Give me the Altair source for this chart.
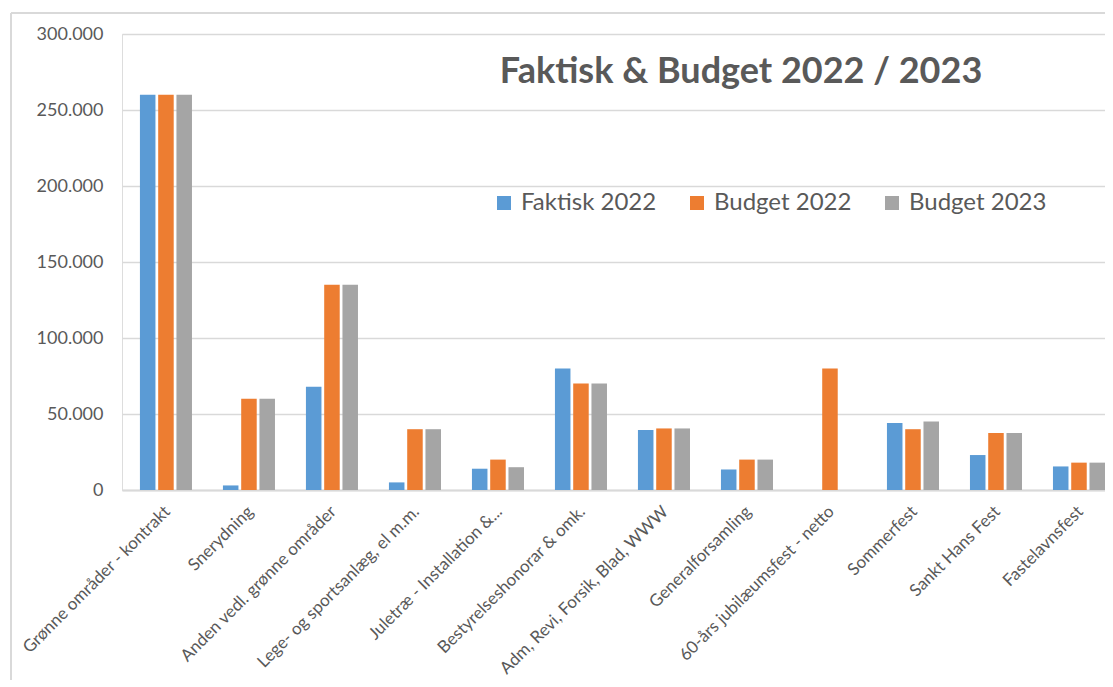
import altair as alt
import pandas as pd

categories = [
    "Grønne områder - kontrakt",
    "Snerydning",
    "Anden vedl. grønne områder",
    "Lege- og sportsanlæg, el m.m.",
    "Juletræ - Installation &...",
    "Bestyrelseshonorar & omk.",
    "Adm, Revi, Forsik, Blad, WWW",
    "Generalforsamling",
    "60-års jubilæumsfest - netto",
    "Sommerfest",
    "Sankt Hans Fest",
    "Fastelavnsfest",
]
series = ["Faktisk 2022", "Budget 2022", "Budget 2023"]
faktisk_2022 = [260000, 3000, 68000, 5000, 14000, 80000, 39500, 13500, 0, 44000, 23000, 15500]
budget_2022 = [260000, 60000, 135000, 40000, 20000, 70000, 40500, 20000, 80000, 40000, 37500, 18000]
budget_2023 = [260000, 60000, 135000, 40000, 15000, 70000, 40500, 20000, 0, 45000, 37500, 18000]
colors = ["#5B9BD5", "#ED7D31", "#A5A5A5"]
title_text = "Faktisk & Budget 2022 / 2023"
y_ticks = [0, 50000, 100000, 150000, 200000, 250000, 300000]

rows = []
for name, vals in zip(series, [faktisk_2022, budget_2022, budget_2023]):
    for c, v in zip(categories, vals):
        rows.append({"Kategori": c, "Serie": name, "Beløb": v})
df = pd.DataFrame(rows)

W, H = 983, 456
FONT = "Lato"
TXT = "#595959"
GRID = "#d9d9d9"

bars = alt.Chart(df).mark_bar().encode(
    x=alt.X(
        "Kategori:N",
        sort=categories,
        title=None,
        scale=alt.Scale(paddingInner=0.373, paddingOuter=0.108, align=1),
        axis=alt.Axis(
            labelAngle=315,
            labelFontSize=17,
            labelColor=TXT,
            labelFont=FONT,
            labelPadding=13,
            labelOffset=-4,
            ticks=False,
            domain=True,
            domainColor=GRID,
            domainWidth=2,
            grid=False,
            labelLimit=400,
        ),
    ),
    xOffset=alt.XOffset("Serie:N", sort=series, scale=alt.Scale(paddingInner=0.15, paddingOuter=0)),
    y=alt.Y(
        "Beløb:Q",
        title=None,
        scale=alt.Scale(domain=[0, 300000], nice=False),
        axis=alt.Axis(
            values=y_ticks,
            labelExpr="replace(format(datum.value, ','), ',', '.')",
            labelFontSize=18,
            labelColor=TXT,
            labelFont=FONT,
            labelPadding=19,
            ticks=False,
            domain=False,
            grid=True,
            gridColor=GRID,
            gridWidth=1.5,
        ),
    ),
    color=alt.Color(
        "Serie:N",
        sort=series,
        scale=alt.Scale(domain=series, range=colors),
        legend=alt.Legend(
            title=None,
            orient="none",
            legendX=370,
            legendY=157,
            direction="horizontal",
            symbolType="square",
            symbolSize=196,
            symbolStrokeWidth=0,
            labelFontSize=24,
            labelFont=FONT,
            labelColor=TXT,
            labelOffset=5,
            columnPadding=28,
            labelLimit=300,
        ),
    ),
)

one = pd.DataFrame({"t": [title_text]})
title = alt.Chart(one).mark_text(
    font=FONT, fontSize=36, fontWeight="bold", color=TXT, align="center", baseline="alphabetic"
).encode(text="t:N", x=alt.value(619), y=alt.value(49))

frame_v = alt.Chart(one).mark_rule(color=GRID, strokeWidth=2).encode(
    x=alt.value(-111), y=alt.value(-21), y2=alt.value(H + 300)
)
frame_h = alt.Chart(one).mark_rule(color=GRID, strokeWidth=2).encode(
    x=alt.value(-111), x2=alt.value(W + 50), y=alt.value(-21)
)

chart = alt.layer(frame_v, frame_h, bars, title).properties(
    width=W,
    height=H,
    autosize=alt.AutoSizeParams(type="none"),
    padding={"left": 114, "top": 26, "right": 0, "bottom": 190},
).configure_view(stroke=None).configure(font=FONT)

chart.save("out.html", embed_options={"renderer": "svg", "actions": False})
